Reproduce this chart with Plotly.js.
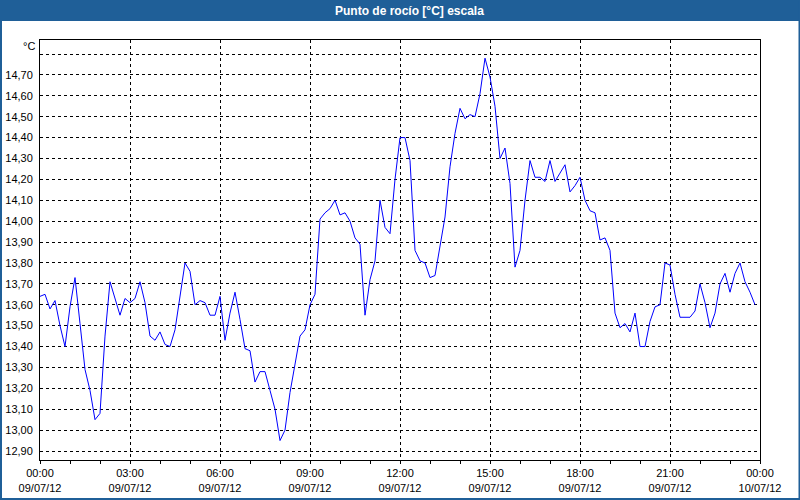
<!DOCTYPE html>
<html>
<head>
<meta charset="utf-8">
<script src="https://cdn.plot.ly/plotly-3.0.1.min.js"></script>
<style>
  html, body { margin: 0; padding: 0; background: #ffffff; }
  #chart { width: 800px; height: 500px; }
</style>
</head>
<body>
<div id="chart"></div>
<script>
// ---- Data ----
const chartTitle = "Punto de rocío [°C] escala";
const unitLabel = "°C";
const startTime = "2012-07-09 00:00";
const stepMinutes = 10;
const dewPoint = [
  13.64, 13.65, 13.58, 13.62, 13.50, 13.40, 13.59, 13.73, 13.51, 13.29,
  13.19, 13.05, 13.08, 13.45, 13.71, 13.63, 13.55, 13.63, 13.61, 13.63,
  13.71, 13.61, 13.45, 13.43, 13.47, 13.41, 13.40, 13.48, 13.65, 13.80,
  13.76, 13.60, 13.62, 13.61, 13.55, 13.55, 13.64, 13.43, 13.56, 13.66,
  13.53, 13.39, 13.38, 13.23, 13.28, 13.28, 13.19, 13.10, 12.95, 13.00,
  13.18, 13.31, 13.45, 13.48, 13.60, 13.65, 14.01, 14.04, 14.06, 14.10,
  14.03, 14.04, 14.00, 13.92, 13.89, 13.55, 13.72, 13.81, 14.10, 13.97,
  13.94, 14.20, 14.40, 14.40, 14.29, 13.86, 13.81, 13.80, 13.73, 13.74,
  13.89, 14.02, 14.26, 14.42, 14.54, 14.49, 14.51, 14.50, 14.61, 14.78,
  14.69, 14.55, 14.30, 14.35, 14.18, 13.78, 13.86, 14.10, 14.29, 14.21,
  14.21, 14.19, 14.29, 14.19, 14.23, 14.27, 14.14, 14.17, 14.21, 14.10,
  14.05, 14.04, 13.91, 13.92, 13.86, 13.56, 13.49, 13.51, 13.47, 13.56,
  13.40, 13.40, 13.52, 13.59, 13.60, 13.80, 13.79, 13.65, 13.54, 13.54,
  13.54, 13.57, 13.70, 13.61, 13.49, 13.56, 13.70, 13.75, 13.66, 13.75,
  13.80, 13.71, 13.66, 13.60
];
const xTickVals = [
  "2012-07-09 00:00", "2012-07-09 03:00", "2012-07-09 06:00", "2012-07-09 09:00",
  "2012-07-09 12:00", "2012-07-09 15:00", "2012-07-09 18:00", "2012-07-09 21:00",
  "2012-07-10 00:00"
];
const xTickText = [
  "00:00<br>09/07/12", "03:00<br>09/07/12", "06:00<br>09/07/12", "09:00<br>09/07/12",
  "12:00<br>09/07/12", "15:00<br>09/07/12", "18:00<br>09/07/12", "21:00<br>09/07/12",
  "00:00<br>10/07/12"
];
const yTickVals = [12.9, 13.0, 13.1, 13.2, 13.3, 13.4, 13.5, 13.6, 13.7, 13.8,
                   13.9, 14.0, 14.1, 14.2, 14.3, 14.4, 14.5, 14.6, 14.7, 14.8];
const yTickText = ["12,90", "13,00", "13,10", "13,20", "13,30", "13,40", "13,50", "13,60", "13,70", "13,80",
                   "13,90", "14,00", "14,10", "14,20", "14,30", "14,40", "14,50", "14,60", "14,70", ""];

// timestamps at the logger's sampling interval
function pad(n) { return (n < 10 ? "0" : "") + n; }
const t0 = new Date(startTime.replace(" ", "T") + ":00");
const times = dewPoint.map((_, i) => {
  const d = new Date(t0.getTime() + i * stepMinutes * 60000);
  return d.getFullYear() + "-" + pad(d.getMonth() + 1) + "-" + pad(d.getDate()) + " " +
         pad(d.getHours()) + ":" + pad(d.getMinutes());
});

// ---- Layout geometry ----
const W = 800, H = 500;
const M = { l: 40, r: 40, t: 40, b: 40 };
const pw = W - M.l - M.r, ph = H - M.t - M.b;
const px = (x) => (x - M.l) / pw;          // pixel -> paper x
const py = (y) => (H - M.b - y) / ph;      // pixel -> paper y

const FONT = "Tahoma, 'Liberation Sans', 'DejaVu Sans', sans-serif";
const BLUE = "#1f5f98";

const trace = {
  type: "scatter",
  mode: "lines",
  x: times,
  y: dewPoint,
  line: { color: "#0000ff", width: 1 },
  hoverinfo: "x+y"
};

const layout = {
  width: W, height: H,
  margin: M,
  paper_bgcolor: "#ffffff",
  plot_bgcolor: "#ffffff",
  showlegend: false,
  font: { family: FONT, size: 11, color: "#000000" },
  xaxis: {
    type: "date",
    range: ["2012-07-09 00:00", "2012-07-10 00:00"],
    tickmode: "array",
    tickvals: xTickVals,
    ticktext: xTickText,
    ticks: "outside",
    ticklen: 3,
    tickcolor: "#000000",
    showgrid: true,
    gridcolor: "#000000",
    gridwidth: 1,
    griddash: "3px,3px",
    showline: true,
    linecolor: "#000000",
    linewidth: 1,
    mirror: true,
    zeroline: false,
    tickfont: { family: FONT, size: 11, color: "#000000" },
    minor: { dtick: 3600000, ticks: "outside", ticklen: 3, tickcolor: "#000000", showgrid: false },
    fixedrange: true
  },
  yaxis: {
    range: [12.857, 14.867],
    tickmode: "array",
    tickvals: yTickVals,
    ticktext: yTickText,
    ticks: "",
    showgrid: true,
    gridcolor: "#000000",
    gridwidth: 1,
    griddash: "3px,3px",
    showline: true,
    linecolor: "#000000",
    linewidth: 1,
    mirror: true,
    zeroline: false,
    ticklabelstandoff: 4,
    tickfont: { family: FONT, size: 11, color: "#000000" },
    fixedrange: true
  },
  shapes: [
    { type: "rect", xref: "paper", yref: "paper", layer: "below",
      x0: px(0), x1: px(W), y0: py(21), y1: py(0),
      fillcolor: BLUE, line: { width: 0 } },
    { type: "rect", xref: "paper", yref: "paper", layer: "above",
      x0: px(1), x1: px(799.5), y0: py(499), y1: py(0),
      fillcolor: "rgba(0,0,0,0)", line: { color: BLUE, width: 2 } }
  ],
  annotations: [
    { text: "<b>" + chartTitle + "</b>", xref: "paper", yref: "paper",
      x: px(410), y: py(10.5), xanchor: "center", yanchor: "middle", showarrow: false,
      font: { family: FONT, size: 12, color: "#ffffff" } },
    { text: unitLabel, xref: "paper", yref: "paper",
      x: px(37), y: py(46), xanchor: "right", yanchor: "middle", showarrow: false,
      font: { family: FONT, size: 11, color: "#000000" } }
  ]
};

Plotly.newPlot("chart", [trace], layout, { displayModeBar: false, staticPlot: true });
</script>
</body>
</html>
